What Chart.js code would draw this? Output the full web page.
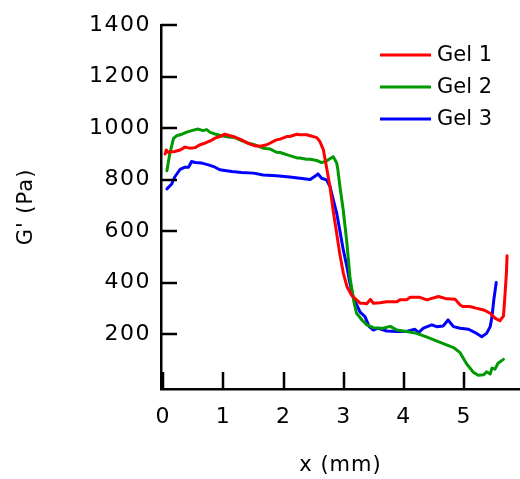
<!DOCTYPE html>
<html>
<head>
<meta charset="utf-8">
<script src="https://cdn.jsdelivr.net/npm/chart.js@4.4.1/dist/chart.umd.min.js"></script>
<style>
  html, body { margin: 0; padding: 0; background: #fff; }
  #wrap { width: 520px; height: 479px; }
</style>
</head>
<body>
<div id="wrap"><canvas id="c" width="520" height="479"></canvas></div>
<script>
// ---- Data (x in mm, G' in Pa) ----
const seriesLabels = ["Gel 1", "Gel 2", "Gel 3"];
const seriesColors = ["#ff0000", "#009a00", "#0000ff"];

const gel1X = [0.03,0.05,0.08,0.14,0.19,0.28,0.36,0.44,0.53,0.61,0.69,0.78,0.86,0.94,1.02,1.11,1.19,1.30,1.41,1.52,1.61,1.72,1.77,1.88,1.94,2.05,2.10,2.22,2.27,2.38,2.44,2.55,2.60,2.66,2.71,2.77,2.82,2.88,2.93,2.99,3.05,3.13,3.21,3.27,3.32,3.38,3.44,3.49,3.60,3.71,3.88,3.93,4.04,4.10,4.26,4.38,4.42,4.57,4.71,4.85,4.93,4.98,5.09,5.21,5.32,5.43,5.51,5.59,5.65,5.67,5.70,5.71];
const gel1Y = [899,915,906,908,909,915,926,922,924,935,941,950,961,967,976,970,965,954,941,931,929,935,941,954,957,967,967,976,974,974,970,963,948,915,850,770,682,592,514,437,385,350,333,320,320,318,335,320,322,326,326,333,333,343,343,333,336,346,337,335,313,307,307,300,294,281,262,252,270,333,440,504];

const gel2X = [0.06,0.11,0.17,0.22,0.31,0.39,0.50,0.58,0.66,0.72,0.78,0.86,0.97,1.08,1.19,1.30,1.41,1.52,1.66,1.77,1.88,1.94,2.10,2.22,2.27,2.38,2.44,2.55,2.63,2.71,2.80,2.82,2.85,2.88,2.90,2.93,2.99,3.05,3.10,3.16,3.21,3.30,3.38,3.49,3.60,3.65,3.77,3.88,4.04,4.21,4.38,4.60,4.82,4.93,5.04,5.15,5.23,5.32,5.37,5.43,5.46,5.51,5.56,5.65];
const gel2Y = [834,903,960,970,976,984,992,996,990,994,983,977,970,965,963,951,941,935,922,919,906,905,893,884,884,879,879,874,866,872,886,889,878,864,838,780,680,553,423,333,281,255,236,225,223,223,230,216,210,203,188,168,148,128,84,52,40,42,54,45,68,64,87,102];

const gel3X = [0.06,0.14,0.19,0.28,0.36,0.42,0.47,0.53,0.64,0.75,0.86,0.94,1.05,1.14,1.30,1.50,1.66,1.88,2.10,2.27,2.44,2.55,2.57,2.63,2.71,2.77,2.82,2.88,2.93,2.99,3.05,3.10,3.16,3.21,3.27,3.35,3.42,3.49,3.57,3.71,3.88,4.04,4.18,4.24,4.32,4.46,4.54,4.65,4.73,4.82,4.93,5.07,5.18,5.29,5.37,5.43,5.46,5.49,5.53];
const gel3Y = [764,783,810,840,848,848,870,866,864,857,848,838,834,831,827,825,818,815,810,805,800,818,822,805,799,773,725,670,605,527,462,398,340,315,285,268,229,216,223,212,210,210,219,206,223,236,229,232,255,229,223,219,206,190,203,229,268,333,400];

const xTicks = [0, 1, 2, 3, 4, 5];
const yTicks = [200, 400, 600, 800, 1000, 1200, 1400];
const xTitle = "x (mm)";
const yTitle = "G' (Pa)";

// ---- Build datasets ----
const xs = [gel1X, gel2X, gel3X];
const ys = [gel1Y, gel2Y, gel3Y];
const datasets = seriesLabels.map((lab, i) => ({
  label: lab,
  data: xs[i].map((x, k) => ({ x: x, y: ys[i][k] })),
  borderColor: seriesColors[i],
  backgroundColor: seriesColors[i],
  borderWidth: 3,
  pointRadius: 0,
  showLine: true,
  tension: 0,
  fill: false
}));

const FONT = "'DejaVu Sans', Verdana, sans-serif";

const spacingPlugin = {
  id: 'spacing',
  beforeDraw(chart) {
    for (const s of Object.values(chart.scales)) {
      if (s._wrappedSp) continue;
      s._wrappedSp = true;
      const dl = s.drawLabels.bind(s);
      s.drawLabels = (ca) => { const c = s.ctx; c.save(); c.letterSpacing = '1.5px'; dl(ca); c.restore(); };
      const dt = s.drawTitle.bind(s);
      s.drawTitle = (...a) => { const c = s.ctx; c.save(); c.letterSpacing = '1px'; dt(...a); c.restore(); };
    }
  }
};

const inwardTicks = {
  id: 'inwardTicks',
  afterDatasetsDraw(chart) {
    const ctx = chart.ctx;
    const xs_ = chart.scales.x, ys_ = chart.scales.y;
    ctx.save();
    ctx.strokeStyle = '#000';
    ctx.lineWidth = 2.5;
    ctx.beginPath();
    for (const v of yTicks) {
      const py = Math.round(ys_.getPixelForValue(v));
      ctx.moveTo(ys_.right, py);
      ctx.lineTo(ys_.right + 16, py);
    }
    for (const v of xTicks) {
      const px = Math.round(xs_.getPixelForValue(v));
      ctx.moveTo(px, xs_.top);
      ctx.lineTo(px, xs_.top - 17);
    }
    ctx.stroke();
    ctx.restore();
  }
};

const customLegend = {
  id: 'customLegend',
  afterDraw(chart) {
    const ctx = chart.ctx;
    const ca = chart.chartArea;
    const x0 = ca.right - 140, x1 = ca.right - 89, tx = ca.right - 83;
    ctx.save();
    ctx.font = "21px " + FONT;
    ctx.textBaseline = 'middle';
    ctx.textAlign = 'left';
    chart.data.datasets.forEach((ds, i) => {
      const y = ca.top + 30 + 32 * i;
      ctx.strokeStyle = ds.borderColor;
      ctx.lineWidth = 3;
      ctx.beginPath();
      ctx.moveTo(x0, y);
      ctx.lineTo(x1, y);
      ctx.stroke();
      ctx.fillStyle = '#000';
      ctx.fillText(ds.label, tx, y + 1);
    });
    ctx.restore();
  }
};

new Chart(document.getElementById('c'), {
  type: 'scatter',
  data: { datasets: datasets },
  options: {
    responsive: false,
    animation: false,
    maintainAspectRatio: false,
    layout: { padding: { top: 25, right: 0, left: 0, bottom: 0 } },
    plugins: { legend: { display: false }, tooltip: { enabled: false } },
    elements: { line: { borderJoinStyle: 'round', borderCapStyle: 'round' } },
    scales: {
      x: {
        type: 'linear',
        position: 'bottom',
        min: -0.038,
        max: 5.925,
        afterFit: (s) => { s.height = 90; },
        afterBuildTicks: (s) => { s.ticks = xTicks.map(v => ({ value: v })); },
        grid: { display: false, drawTicks: false },
        border: { display: true, color: '#000', width: 2.5 },
        ticks: { color: '#000', font: { family: FONT, size: 22 }, padding: 15, maxRotation: 0, autoSkip: false, callback: (v) => String(v) },
        title: { display: true, text: xTitle, color: '#000', font: { family: FONT, size: 21 }, padding: { top: 0, bottom: 0.4 } }
      },
      y: {
        type: 'linear',
        position: 'left',
        min: -13,
        max: 1400,
        afterFit: (s) => { s.width = 161; },
        afterBuildTicks: (s) => { s.ticks = yTicks.map(v => ({ value: v })); },
        grid: { display: false, drawTicks: false },
        border: { display: true, color: '#000', width: 2.5 },
        ticks: { color: '#000', font: { family: FONT, size: 22 }, padding: 10, autoSkip: false, callback: (v) => String(v) },
        title: { display: true, text: yTitle, color: '#000', font: { family: FONT, size: 21 }, padding: { top: 14.4, bottom: 0 } }
      }
    }
  },
  plugins: [spacingPlugin, inwardTicks, customLegend]
});
</script>
</body>
</html>
